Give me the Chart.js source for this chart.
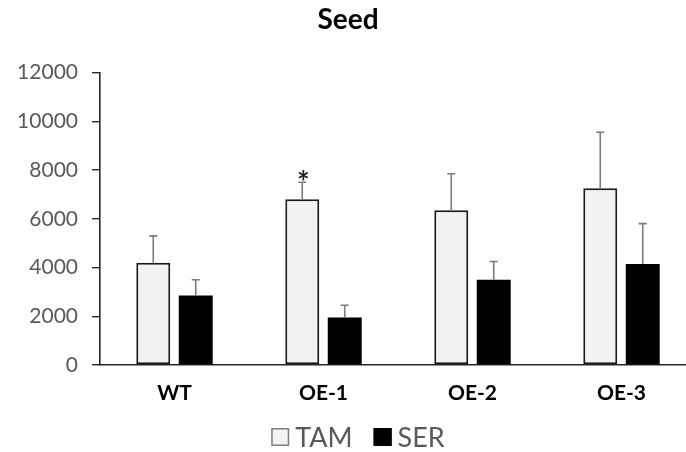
<!DOCTYPE html>
<html>
<head>
<meta charset="utf-8">
<script src="https://cdn.jsdelivr.net/npm/chart.js@4.4.1/dist/chart.umd.min.js"></script>
<style>
  html, body { margin: 0; padding: 0; background: #fff; overflow: hidden; }
  #wrap { width: 752px; height: 452px; position: relative; }
</style>
</head>
<body>
<div id="wrap"><canvas id="c"></canvas></div>
<script>
// Seed measurements per line, mean with upward standard-deviation bars
const categories = ['WT', 'OE-1', 'OE-2', 'OE-3'];
const tamValues = [4200, 6800, 6350, 7250];
const tamErrors = [1100, 700, 1500, 2300];
const serValues = [2850, 1950, 3500, 4150];
const serErrors = [650, 500, 750, 1650];
const tamMarks = ['', '*', '', ''];
const yTicks = [0, 2000, 4000, 6000, 8000, 10000, 12000];

const FONT = "Lato, 'Open Sans', sans-serif";

// Draws the one-sided error bars and significance marks on top of each bar
const errorBars = {
  id: 'errorBars',
  afterDatasetsDraw(chart) {
    const ctx = chart.ctx;
    const y = chart.scales.y;
    chart.data.datasets.forEach((ds, di) => {
      const meta = chart.getDatasetMeta(di);
      meta.data.forEach((bar, i) => {
        const top = y.getPixelForValue(ds.data[i] + ds.errors[i]);
        ctx.save();
        ctx.strokeStyle = '#7a7a7a';
        ctx.lineWidth = 1.6;
        ctx.beginPath();
        ctx.moveTo(bar.x, bar.y);
        ctx.lineTo(bar.x, top);
        ctx.moveTo(bar.x - 4, top);
        ctx.lineTo(bar.x + 4, top);
        ctx.stroke();
        if (ds.marks && ds.marks[i]) {
          ctx.fillStyle = '#222';
          ctx.font = "bold 30px " + FONT;
          ctx.textAlign = 'center';
          ctx.textBaseline = 'alphabetic';
          ctx.fillText(ds.marks[i], bar.x + 1, top + 11);
        }
        ctx.restore();
      });
    });
  }
};

// Compact legend: square swatch, short gap, series name
const swatchLegend = {
  id: 'swatchLegend',
  afterDraw(chart, args, opts) {
    const ctx = chart.ctx;
    ctx.save();
    ctx.font = opts.size + 'px ' + FONT;
    ctx.textBaseline = 'middle';
    ctx.textAlign = 'left';
    const items = chart.data.datasets.map((ds, i) => ({
      text: ds.label,
      fill: ds.backgroundColor,
      stroke: opts.strokes[i],
      w: ctx.measureText(ds.label).width
    }));
    const total = items.reduce((s, it) => s + opts.box + opts.gap + it.w, 0) + opts.spacing * (items.length - 1);
    let x = opts.centerX - total / 2;
    const cy = opts.centerY;
    items.forEach(it => {
      ctx.fillStyle = it.fill;
      ctx.fillRect(x, cy - opts.box / 2, opts.box, opts.box);
      ctx.strokeStyle = it.stroke;
      ctx.lineWidth = 1.5;
      ctx.strokeRect(x + 0.75, cy - opts.box / 2 + 0.75, opts.box - 1.5, opts.box - 1.5);
      x += opts.box + opts.gap;
      ctx.fillStyle = opts.color;
      ctx.fillText(it.text, x, cy + 1);
      x += it.w + opts.spacing;
    });
    ctx.restore();
  }
};

new Chart(document.getElementById('c'), {
  type: 'bar',
  data: {
    labels: categories,
    datasets: [
      {
        label: 'TAM',
        data: tamValues,
        errors: tamErrors,
        marks: tamMarks,
        backgroundColor: '#f2f2f2',
        borderColor: '#1a1a1a',
        borderWidth: 2,
        borderSkipped: false,
        categoryPercentage: 0.57,
        barPercentage: 0.8
      },
      {
        label: 'SER',
        data: serValues,
        errors: serErrors,
        backgroundColor: '#000000',
        borderColor: '#000000',
        borderWidth: 0,
        categoryPercentage: 0.57,
        barPercentage: 0.8
      }
    ]
  },
  options: {
    responsive: true,
    maintainAspectRatio: false,
    animation: false,
    devicePixelRatio: 1,
    layout: { padding: { left: 0, right: 56, top: 0, bottom: 44 } },
    plugins: {
      title: {
        display: true,
        text: 'Seed',
        color: '#000',
        font: { family: FONT, size: 28, weight: 'bold' },
        padding: { top: 3, bottom: 36 }
      },
      legend: { display: false },
      swatchLegend: {
        size: 27,
        box: 18,
        gap: 6,
        spacing: 21,
        color: '#595959',
        strokes: ['#7f7f7f', '#000000'],
        centerX: 358,
        centerY: 437
      },
      tooltip: { enabled: false }
    },
    scales: {
      x: {
        afterFit(scale) { scale.height = 43; },
        grid: { display: false, drawTicks: false },
        border: { display: true, color: '#262626', width: 1.6 },
        ticks: {
          color: '#000',
          font: { family: FONT, size: 21, weight: 'bold' },
          padding: 16
        }
      },
      y: {
        min: 0,
        max: 12000,
        afterFit(scale) { scale.width = 100; },
        afterBuildTicks(scale) { scale.ticks = yTicks.map(v => ({ value: v })); },
        grid: {
          display: true,
          drawOnChartArea: false,
          drawTicks: true,
          tickLength: 8,
          color: '#262626',
          lineWidth: 1.4
        },
        border: { display: true, color: '#262626', width: 1.6 },
        ticks: {
          color: '#595959',
          font: { family: FONT, size: 21 },
          padding: 14,
          callback: v => String(v)
        }
      }
    }
  },
  plugins: [errorBars, swatchLegend]
});
</script>
</body>
</html>
